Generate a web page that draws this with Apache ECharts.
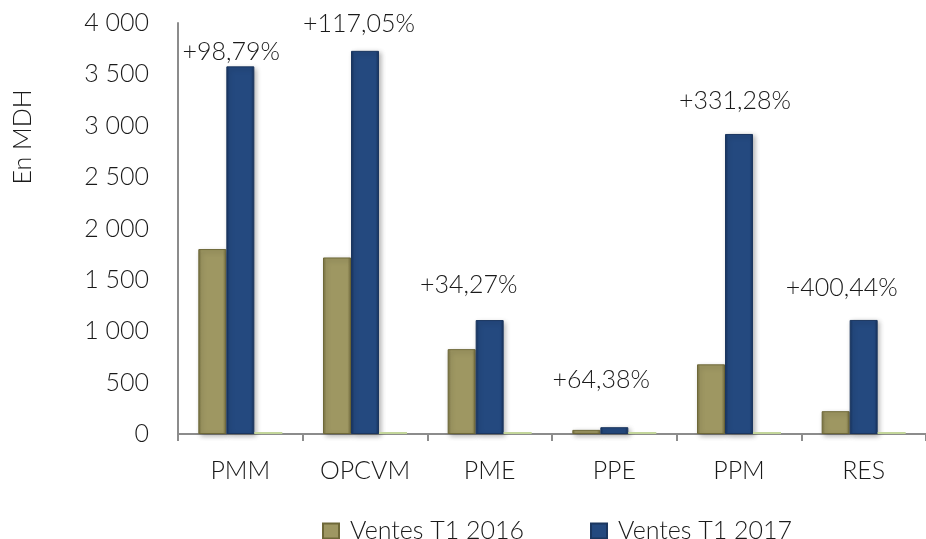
<!DOCTYPE html>
<html>
<head>
<meta charset="utf-8">
<script src="https://cdn.jsdelivr.net/npm/echarts@6/dist/echarts.min.js"></script>
<style>
  html, body { margin: 0; padding: 0; background: #fff; }
  #chart { width: 926px; height: 539px; }
</style>
</head>
<body>
<div id="chart"></div>
<script>
// categories and values (MDH)
const categories = ['PMM', 'OPCVM', 'PME', 'PPE', 'PPM', 'RES'];
const ventes2016 = [1800, 1718, 826, 40, 678, 222];
const ventes2017 = [3578, 3729, 1109, 66, 2920, 1110];
const growthRatio = [0.9879, 1.1705, 0.3427, 0.6438, 3.3128, 4.0044];
const growthLabels = ['+98,79%', '+117,05%', '+34,27%', '+64,38%', '+331,28%', '+400,44%'];
const yTicks = { min: 0, max: 4000, interval: 500 };

// label nudges, the excel labels were moved by hand
const labelShift = [[-9, -3], [-6, -16], [-21, -24], [-13, -36], [-4, -22], [-22, -21]];

const FONT = 'Lato';
const WEIGHT = 300;
const TXT = '#1a1a1a';

function fmtThousands (v) {
  if (v < 1000) return String(v);
  return Math.floor(v / 1000) + ' ' + String(v % 1000).padStart(3, '0');
}

function barGradient (edge, mid) {
  return new echarts.graphic.LinearGradient(0, 0, 1, 0, [
    { offset: 0, color: edge },
    { offset: 0.12, color: mid },
    { offset: 0.88, color: mid },
    { offset: 1, color: edge }
  ]);
}

const myChart = echarts.init(document.getElementById('chart'));

const option = {
  animation: false,
  backgroundColor: '#ffffff',
  grid: {
    left: 178,
    right: -8,
    top: 23,
    bottom: 105
  },
  legend: {
    data: ['Ventes T1 2016', 'Ventes T1 2017'],
    left: 317,
    top: 511,
    icon: 'rect',
    itemWidth: 16,
    itemHeight: 15,
    itemGap: 66,
    textStyle: {
      fontFamily: FONT,
      fontWeight: WEIGHT,
      fontSize: 25,
      color: TXT,
      lineHeight: 30,
      padding: [0, 0, 0, 6]
    }
  },
  graphic: [
    {
      type: 'text',
      x: 23,
      y: 137,
      rotation: Math.PI / 2,
      style: {
        text: 'En MDH',
        fontFamily: FONT,
        fontWeight: WEIGHT,
        fontSize: 25,
        fill: TXT,
        textAlign: 'center',
        textVerticalAlign: 'middle'
      }
    }
  ],
  xAxis: {
    type: 'category',
    data: categories,
    axisLine: { lineStyle: { color: '#8c8c8c', width: 2 } },
    axisTick: { show: true, length: 7, lineStyle: { color: '#8c8c8c', width: 2 } },
    axisLabel: {
      fontFamily: FONT,
      fontWeight: WEIGHT,
      fontSize: 25,
      color: TXT,
      margin: 24
    }
  },
  yAxis: {
    type: 'value',
    min: yTicks.min,
    max: yTicks.max,
    interval: yTicks.interval,
    axisLine: { show: true, lineStyle: { color: '#8c8c8c', width: 2 } },
    axisTick: { show: false },
    splitLine: { show: false },
    axisLabel: {
      fontFamily: FONT,
      fontWeight: WEIGHT,
      fontSize: 25,
      color: TXT,
      margin: 29,
      padding: [0, 0, 14, 0],
      formatter: fmtThousands
    }
  },
  series: [
    {
      name: 'Ventes T1 2016',
      type: 'bar',
      data: ventes2016,
      barWidth: 28,
      barGap: '0%',
      itemStyle: {
        color: barGradient('#756f3f', '#9e9762'),
        borderColor: '#6e6838',
        borderWidth: 1,
        shadowColor: 'rgba(0,0,0,0.3)',
        shadowBlur: 5,
        shadowOffsetX: 2,
        shadowOffsetY: 2
      }
    },
    {
      name: 'Ventes T1 2017',
      type: 'bar',
      data: ventes2017.map((v, i) => ({
        value: v,
        label: { offset: labelShift[i] }
      })),
      barWidth: 28,
      barGap: '0%',
      itemStyle: {
        color: barGradient('#17325c', '#24497f'),
        borderColor: '#1b365f',
        borderWidth: 1,
        shadowColor: 'rgba(0,0,0,0.3)',
        shadowBlur: 5,
        shadowOffsetX: 2,
        shadowOffsetY: 2
      },
      label: {
        show: true,
        position: 'top',
        distance: 0,
        fontFamily: FONT,
        fontWeight: WEIGHT,
        fontSize: 25,
        lineHeight: 22,
        color: TXT,
        formatter: p => growthLabels[p.dataIndex]
      }
    },
    {
      name: 'Croissance',
      type: 'bar',
      data: growthRatio,
      barWidth: 28,
      barGap: '0%',
      barMinHeight: 2,
      itemStyle: { color: '#c3d69b' }
    }
  ]
};

myChart.setOption(option);
</script>
</body>
</html>
